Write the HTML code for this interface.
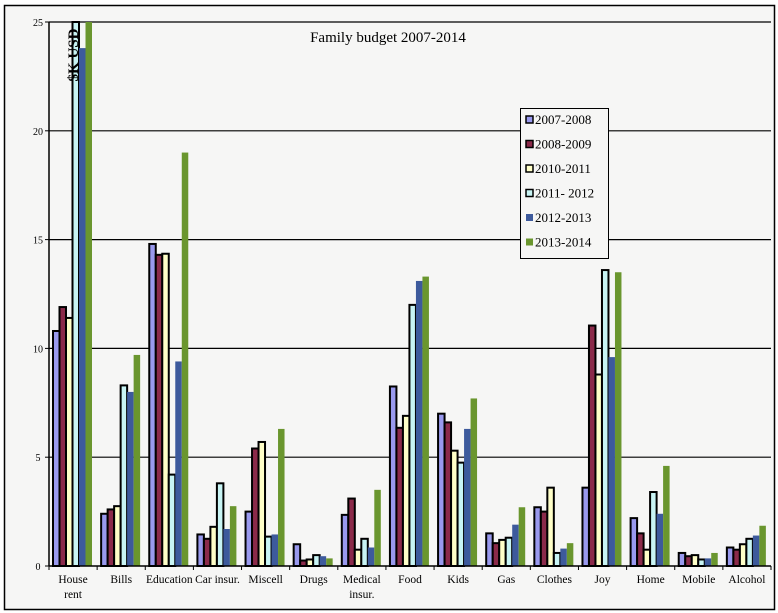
<!DOCTYPE html>
<html><head><meta charset="utf-8"><style>
body{margin:0;background:#fff;}
svg{display:block;font-family:"Liberation Serif",serif;}
</style></head><body>
<svg id="chart" width="778" height="613" viewBox="0 0 778 613">
<rect x="4.5" y="5.5" width="770" height="604" fill="#f6f6f5" stroke="#000" stroke-width="1.5"/>
<g id="grid"></g>
<g id="bars"></g>
<g id="axes"></g>
<text x="388" y="42" font-size="15" text-anchor="middle">Family budget 2007-2014</text>
<text transform="translate(78,55) rotate(-90)" font-size="15" font-weight="bold" text-anchor="middle">$K USD</text>
<g id="legend"></g>
</svg>
<script>
const categories=["House rent","Bills","Education","Car insur.","Miscell","Drugs","Medical insur.","Food","Kids","Gas","Clothes","Joy","Home","Mobile","Alcohol"];
const seriesNames=["2007-2008","2008-2009","2010-2011","2011- 2012","2012-2013","2013-2014"];
const s0708=[10.8,2.4,14.8,1.45,2.5,1.0,2.35,8.25,7.0,1.5,2.7,3.6,2.2,0.6,0.85];
const s0809=[11.9,2.6,14.3,1.25,5.4,0.25,3.1,6.35,6.6,1.05,2.5,11.05,1.5,0.45,0.75];
const s1011=[11.4,2.75,14.35,1.8,5.7,0.3,0.75,6.9,5.3,1.2,3.6,8.8,0.75,0.5,1.0];
const s1112=[25,8.3,4.2,3.8,1.35,0.5,1.25,12.0,4.75,1.3,0.6,13.6,3.4,0.3,1.25];
const s1213=[23.8,8.0,9.4,1.7,1.45,0.45,0.85,13.1,6.3,1.9,0.8,9.6,2.4,0.35,1.4];
const s1314=[25,9.7,19.0,2.75,6.3,0.35,3.5,13.3,7.7,2.7,1.05,13.5,4.6,0.6,1.85];
const yTicks=[0,5,10,15,20,25];
const series=[s0708,s0809,s1011,s1112,s1213,s1314];
const fills=["#9999ee","#8b2a4a","#ffffc8","#c8f4f4","#3d5a9c","#6a962e"];
const outlined=[true,true,true,true,false,false];
const NS="http://www.w3.org/2000/svg";
const x0=49,x1=771,y0=566,yTop=22,yMax=25;
const cw=(x1-x0)/categories.length;
const y=v=>y0-(v/yMax)*(y0-yTop);
const xc=i=>x0+i*cw;
function mk(tag,attrs,parent){const e=document.createElementNS(NS,tag);for(const k in attrs)e.setAttribute(k,attrs[k]);parent.appendChild(e);return e;}
const grid=document.getElementById('grid'),bars=document.getElementById('bars'),axes=document.getElementById('axes'),legend=document.getElementById('legend');
yTicks.forEach(t=>{
  if(t>0){const g=mk('line',{x1:x0,x2:x1,y1:y(t),y2:y(t),stroke:'#000','stroke-width':1.2},grid);
  
  }
  const tl=mk('text',{x:38,y:y(t)+4,'font-size':10,'text-anchor':'middle'},axes);tl.textContent=t;
  
  
  mk('line',{x1:x0-4,x2:x0,y1:y(t),y2:y(t),stroke:'#000'},axes);
});
const bw=6.5;
categories.forEach((c,i)=>{
  series.forEach((s,j)=>{
    const bx=xc(i)+4+j*bw, by=y(s[i]);
    const r=mk('rect',{x:bx,y:by,width:bw,height:y0-by,fill:fills[j]},bars);
    if(outlined[j]){r.setAttribute('stroke','#000');r.setAttribute('stroke-width','2');}
    
    
  });
  mk('line',{x1:xc(i),x2:xc(i),y1:y0,y2:y0+4,stroke:'#000'},axes);
  const parts=c==="House rent"?["House","rent"]:c==="Medical insur."?["Medical","insur."]:[c];
  parts.forEach((p,k)=>{
    const t=mk('text',{x:xc(i)+cw/2,y:583+k*15,'font-size':11.5,'text-anchor':'middle'},axes);t.textContent=p;
    
    
  });
});
mk('line',{x1:x1,x2:x1,y1:y0,y2:y0+4,stroke:'#000'},axes);
mk('line',{x1:x0,x2:x0,y1:yTop,y2:y0,stroke:'#000','stroke-width':1.5},axes);
mk('line',{x1:x0,x2:x1,y1:y0,y2:y0,stroke:'#000','stroke-width':1.5},axes);
mk('rect',{x:520.5,y:108.5,width:88,height:150,fill:'#f6f6f5',stroke:'#000','stroke-width':1},legend);
seriesNames.forEach((n,j)=>{
  const ly=122+j*24.5;
  const sw=mk('rect',{x:526,y:ly-6,width:7,height:7,fill:fills[j],stroke:outlined[j]?'#000':'none','stroke-width':1.5},legend);
  
  
  const t=mk('text',{x:535,y:ly+2,'font-size':13},legend);t.textContent=n;
  
  
});
</script>
</body></html>
